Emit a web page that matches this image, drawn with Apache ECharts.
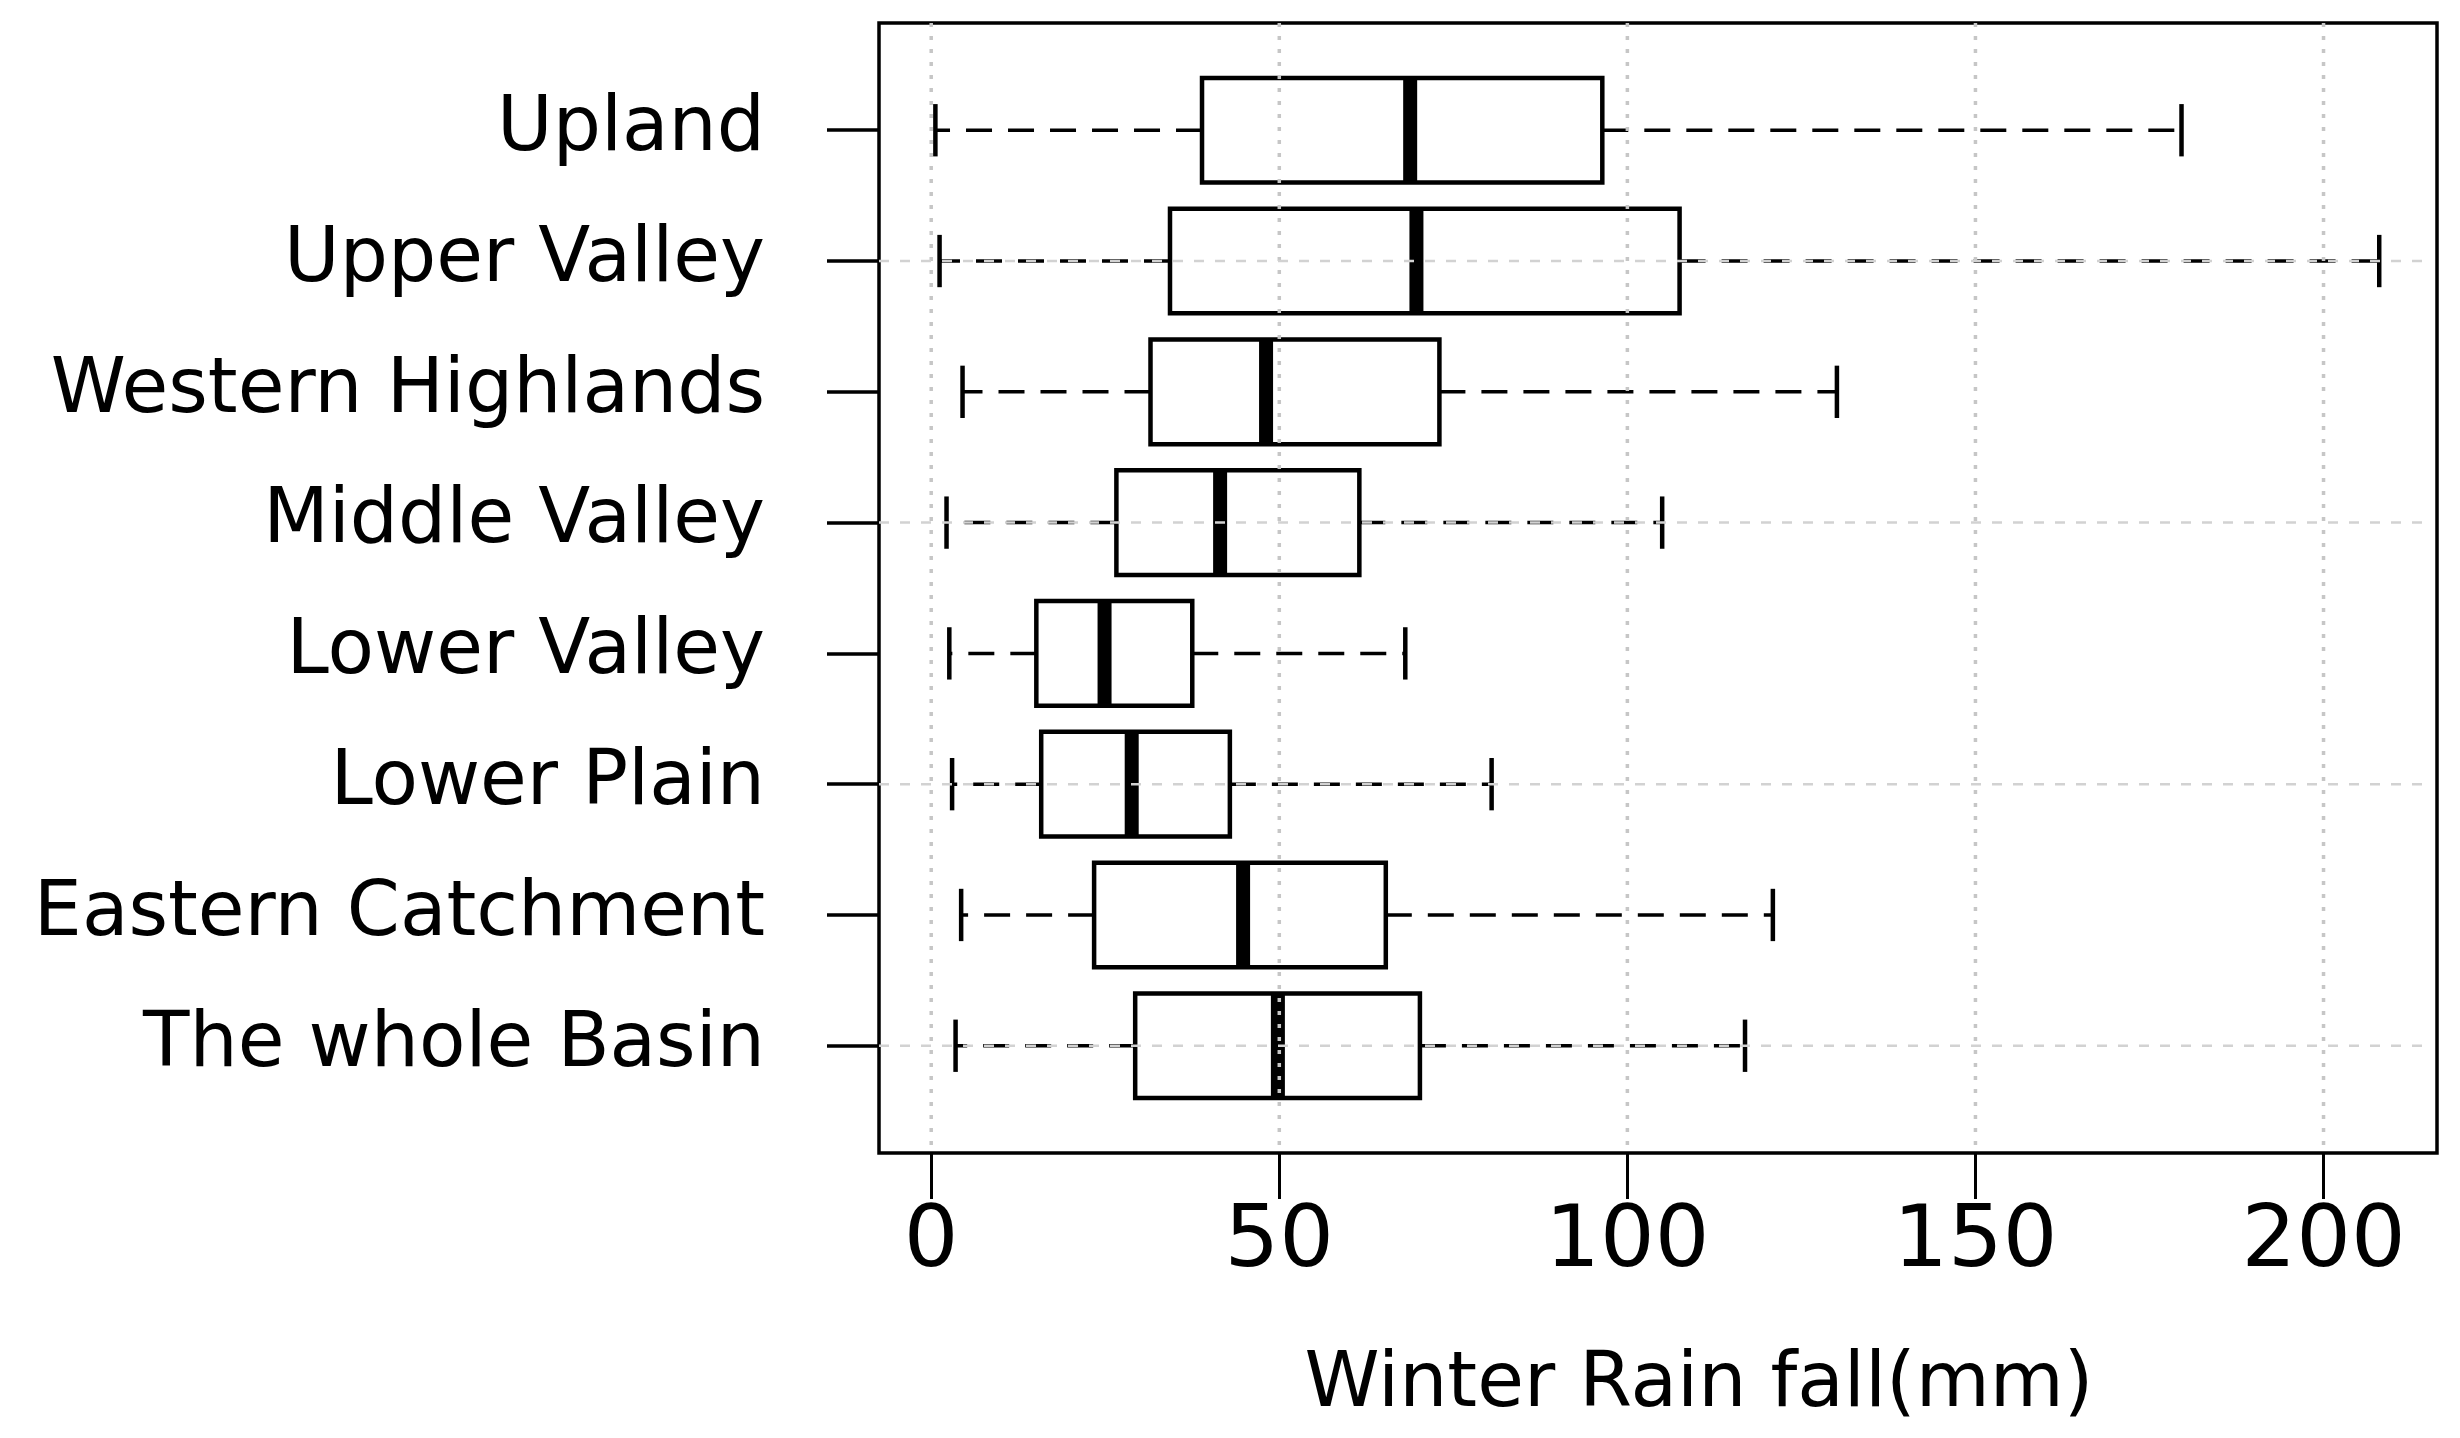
<!DOCTYPE html>
<html>
<head>
<meta charset="utf-8">
<script src="https://cdn.jsdelivr.net/npm/echarts@6/dist/echarts.min.js"></script>
<style>
html, body { margin: 0; padding: 0; background: #ffffff; }
#chart { width: 2460px; height: 1438px; }
</style>
</head>
<body>
<div id="chart"></div>
<script>
// ---- data (listed top to bottom) ----
const categories = ['Upland', 'Upper Valley', 'Western Highlands', 'Middle Valley',
                    'Lower Valley', 'Lower Plain', 'Eastern Catchment', 'The whole Basin'];
const whiskerLow  = [0.6, 1.2, 4.5, 2.2, 2.6, 3.0, 4.3, 3.5];
const q1          = [38.9, 34.3, 31.5, 26.6, 15.1, 15.8, 23.4, 29.3];
const median      = [68.8, 69.7, 48.1, 41.5, 24.9, 28.8, 44.8, 49.8];
const q3          = [96.4, 107.5, 73.0, 61.5, 37.5, 42.9, 65.3, 70.2];
const whiskerHigh = [179.6, 208.0, 130.1, 105.0, 68.1, 80.5, 120.9, 116.9];
const xTicks = [0, 50, 100, 150, 200];
const gridRows = ['Upper Valley', 'Middle Valley', 'Lower Plain', 'The whole Basin'];

// box position on the y scale: 1 = bottom group, n = top group
const nCat = categories.length;
const posOf = i => nCat - i;
const positions = categories.map((c, i) => posOf(i));
const boxData = categories.map((c, i) => [posOf(i), whiskerLow[i], q1[i], median[i], q3[i], whiskerHigh[i]]);
const vGridData = xTicks.map(v => [v, 1]);
const hGridData = gridRows.map(c => [0, posOf(categories.indexOf(c))]);

function renderBox(params, api) {
  const yv = api.value(0);
  const lo = api.coord([api.value(1), yv]);
  const a = api.coord([api.value(2), yv]);
  const m = api.coord([api.value(3), yv]);
  const b = api.coord([api.value(4), yv]);
  const hi = api.coord([api.value(5), yv]);
  const unit = Math.abs(api.size([0, 1])[1]);
  const half = unit * 0.4, cap = unit * 0.2, cy = a[1];
  const dashStyle = { stroke: '#000', lineWidth: 3.5, lineDash: [26, 16], fill: null };
  const capStyle = { stroke: '#000', lineWidth: 4.5, fill: null };
  return {
    type: 'group',
    children: [
      { type: 'line', shape: { x1: a[0], y1: cy, x2: lo[0], y2: cy }, style: dashStyle },
      { type: 'line', shape: { x1: b[0], y1: cy, x2: hi[0], y2: cy }, style: dashStyle },
      { type: 'line', shape: { x1: lo[0], y1: cy - cap, x2: lo[0], y2: cy + cap }, style: capStyle },
      { type: 'line', shape: { x1: hi[0], y1: cy - cap, x2: hi[0], y2: cy + cap }, style: capStyle },
      { type: 'rect', shape: { x: a[0], y: cy - half, width: b[0] - a[0], height: 2 * half },
        style: { fill: '#fff', stroke: '#000', lineWidth: 4.5 } },
      { type: 'line', shape: { x1: m[0], y1: cy - half, x2: m[0], y2: cy + half },
        style: { stroke: '#000', lineWidth: 14 } }
    ]
  };
}

function renderVGrid(params, api) {
  const cs = params.coordSys;
  const p = api.coord([api.value(0), api.value(1)]);
  return { type: 'line', shape: { x1: p[0], y1: cs.y, x2: p[0], y2: cs.y + cs.height },
           style: { stroke: '#c6c6c6', lineWidth: 3.5, lineDash: [4, 9] } };
}

function renderHGrid(params, api) {
  const cs = params.coordSys;
  const p = api.coord([api.value(0), api.value(1)]);
  return { type: 'line', shape: { x1: cs.x, y1: p[1], x2: cs.x + cs.width - 8, y2: p[1] },
           style: { stroke: '#d2d2d2', lineWidth: 2.5, lineDash: [10, 11] } };
}

const chart = echarts.init(document.getElementById('chart'), null, { renderer: 'canvas' });
chart.setOption({
  animation: false,
  backgroundColor: '#ffffff',
  grid: {
    left: 879, right: 23, top: 23, bottom: 285,
    show: true, borderColor: '#000', borderWidth: 3.5,
    containLabel: false, outerBoundsMode: 'none'
  },
  xAxis: {
    type: 'value', min: -7.5, max: 216.3, position: 'bottom',
    axisLine: { show: false, onZero: false },
    splitLine: { show: false },
    axisTick: { show: true, inside: false, length: 46, lineStyle: { color: '#000', width: 3 }, customValues: xTicks },
    axisLabel: { customValues: xTicks, fontSize: 86, fontFamily: 'DejaVu Sans', color: '#000', margin: 48 },
    name: 'Winter Rain fall(mm)', nameLocation: 'middle', nameGap: 195,
    nameTextStyle: { fontSize: 76, fontFamily: 'DejaVu Sans', color: '#000', padding: [0, 0, 0, 82] }
  },
  yAxis: {
    type: 'value', min: 0.18, max: 8.82, position: 'left',
    axisLine: { show: false, onZero: false },
    splitLine: { show: false },
    axisTick: { show: true, inside: false, length: 52, lineStyle: { color: '#000', width: 3.5 }, customValues: positions },
    axisLabel: {
      customValues: positions,
      formatter: v => categories[nCat - Math.round(v)] || '',
      fontSize: 76, fontFamily: 'DejaVu Sans', color: '#000', margin: 114
    }
  },
  series: [
    { type: 'custom', name: 'box', z: 2, silent: true, data: boxData,
      encode: { y: 0, x: [1, 2, 3, 4, 5] }, renderItem: renderBox },
    { type: 'custom', name: 'vgrid', z: 5, silent: true, data: vGridData,
      encode: { x: 0, y: 1 }, renderItem: renderVGrid },
    { type: 'custom', name: 'hgrid', z: 5, silent: true, data: hGridData,
      encode: { x: 0, y: 1 }, renderItem: renderHGrid }
  ]
});
</script>
</body>
</html>
